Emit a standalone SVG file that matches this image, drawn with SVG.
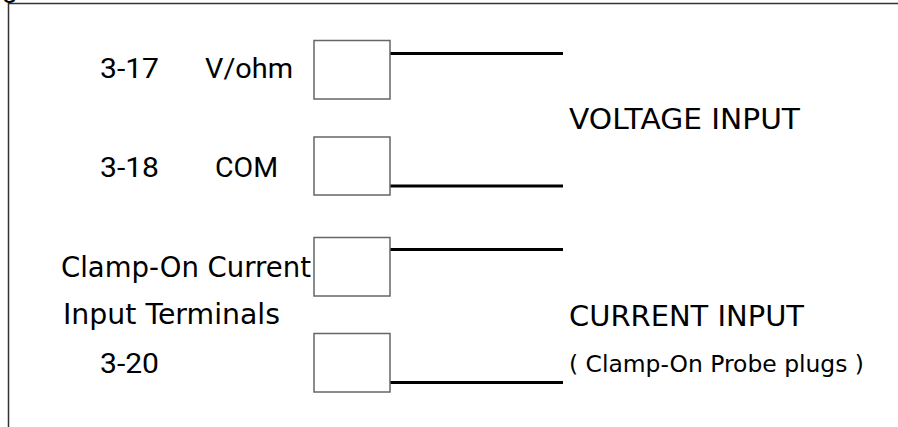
<svg xmlns="http://www.w3.org/2000/svg" width="898" height="427" viewBox="0 0 898 427">
<style>
.term{fill:#fff;stroke:#666;stroke-width:1.5}
.wire{stroke:#000;stroke-width:3;fill:none}
.lbl{font-family:Roboto,"Liberation Sans",sans-serif;font-size:28px;fill:#000}
.cap{font-family:"DejaVu Sans","Noto Sans",sans-serif;font-size:28px;fill:#000}
.sub{font-family:"DejaVu Sans","Noto Sans",sans-serif;font-size:23px;fill:#000}
</style>
<rect x="0" y="0" width="898" height="427" fill="#fff"/>
<g id="frame">
<path d="M8.5 427 V3.5 H898" fill="none" stroke="#333" stroke-width="1.5"/>
<text x="2" y="-3" class="lbl">g</text>
</g>
<g id="connectors">
<line class="wire" x1="390" y1="53.5" x2="563" y2="53.5"/>
<line class="wire" x1="390" y1="186" x2="563" y2="186"/>
<line class="wire" x1="390" y1="249.5" x2="563" y2="249.5"/>
<line class="wire" x1="390" y1="382.5" x2="563" y2="382.5"/>
</g>
<g id="t317">
<text x="100" y="78" class="lbl" textLength="59" lengthAdjust="spacingAndGlyphs">3-17</text>
<text x="205" y="78" class="lbl" textLength="88" lengthAdjust="spacingAndGlyphs">V/ohm</text>
<rect class="term" x="314" y="40.5" width="76" height="58.5"/>
</g>
<g id="t318">
<text x="100" y="177" class="lbl" textLength="59" lengthAdjust="spacingAndGlyphs">3-18</text>
<text x="215" y="177" class="lbl" textLength="63" lengthAdjust="spacingAndGlyphs">COM</text>
<rect class="term" x="314" y="137" width="76" height="58"/>
</g>
<g id="tclamp">
<text x="61" y="277" class="cap" textLength="250" lengthAdjust="spacingAndGlyphs">Clamp-On Current</text>
<text x="63" y="324" class="cap" textLength="217" lengthAdjust="spacingAndGlyphs">Input Terminals</text>
<rect class="term" x="314" y="237.5" width="76" height="58.5"/>
</g>
<g id="t320">
<text x="100" y="373" class="lbl" textLength="59" lengthAdjust="spacingAndGlyphs">3-20</text>
<rect class="term" x="314" y="333.5" width="76" height="58.5"/>
</g>
<g id="voltage">
<text x="569" y="129" class="cap" textLength="231" lengthAdjust="spacingAndGlyphs">VOLTAGE INPUT</text>
</g>
<g id="current">
<text x="569" y="326" class="cap" textLength="235" lengthAdjust="spacingAndGlyphs">CURRENT INPUT</text>
<text x="569" y="372" class="sub" textLength="295" lengthAdjust="spacingAndGlyphs">( Clamp-On Probe plugs )</text>
</g>
</svg>
